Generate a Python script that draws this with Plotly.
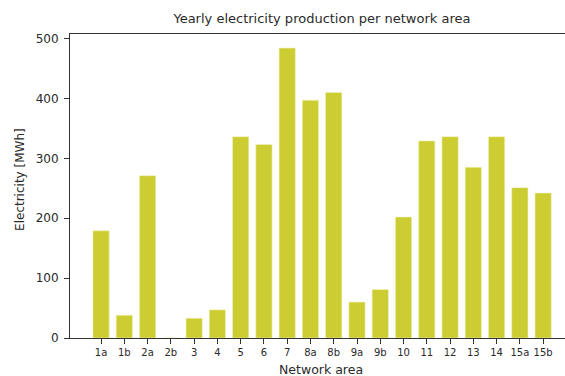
import plotly.graph_objects as go

areas = ["1a", "1b", "2a", "2b", "3", "4", "5", "6", "7", "8a", "8b", "9a", "9b",
         "10", "11", "12", "13", "14", "15a", "15b"]
electricity = [179, 38, 271, 0, 33, 47, 336, 323, 484, 397, 410, 60, 81,
               202, 329, 336, 285, 336, 251, 242]
y_ticks = [0, 100, 200, 300, 400, 500]

W, H = 565, 376
L, R, T, B = 70, 0, 34, 38
plot_w = W - L - R
plot_h = H - T - B

fig = go.Figure()
fig.add_trace(go.Bar(
    x=areas, y=electricity,
    marker=dict(color="#cccc33", line=dict(color="#f4f4c0", width=0.6)),
    width=0.7,
))

font = "DejaVu Sans, Verdana, sans-serif"
fig.update_layout(
    width=W, height=H,
    margin=dict(l=L, r=R, t=T, b=B, autoexpand=False),
    plot_bgcolor="white", paper_bgcolor="white",
    showlegend=False,
    font=dict(family=font, color="#2a2a2a"),
    title=dict(text="Yearly electricity production per network area",
               x=0.509, xref="paper", xanchor="center",
               font=dict(size=13), y=1 - 18 / H, yref="container", yanchor="middle",
               automargin=False),
    xaxis=dict(
        type="category", range=[-1.335, 19.94], automargin=False,
        showline=True, linecolor="#333", linewidth=1, mirror=True,
        ticks="outside", ticklen=5, tickcolor="#333",
        tickfont=dict(size=10), showgrid=False,
    ),
    yaxis=dict(
        range=[0, 507.5], tickvals=y_ticks, automargin=False,
        showline=True, linecolor="#333", linewidth=1,
        ticks="outside", ticklen=5, tickcolor="#333", ticklabelstandoff=3,
        tickfont=dict(size=12), showgrid=False, zeroline=False,
    ),
    annotations=[
        dict(text="Network area", x=0.507, xref="paper",
             y=(H - 369 - B) / plot_h, yref="paper",
             showarrow=False, font=dict(size=12.5), xanchor="center", yanchor="middle"),
        dict(text="Electricity [MWh]", x=(20 - L) / plot_w, xref="paper",
             y=0.52, yref="paper",
             showarrow=False, font=dict(size=12), textangle=-90,
             xanchor="center", yanchor="middle"),
    ],
)
fig.write_html(
    "out.html",
    config={"displayModeBar": False},
    post_script="document.body.style.margin='0';document.body.style.overflow='hidden';",
)
